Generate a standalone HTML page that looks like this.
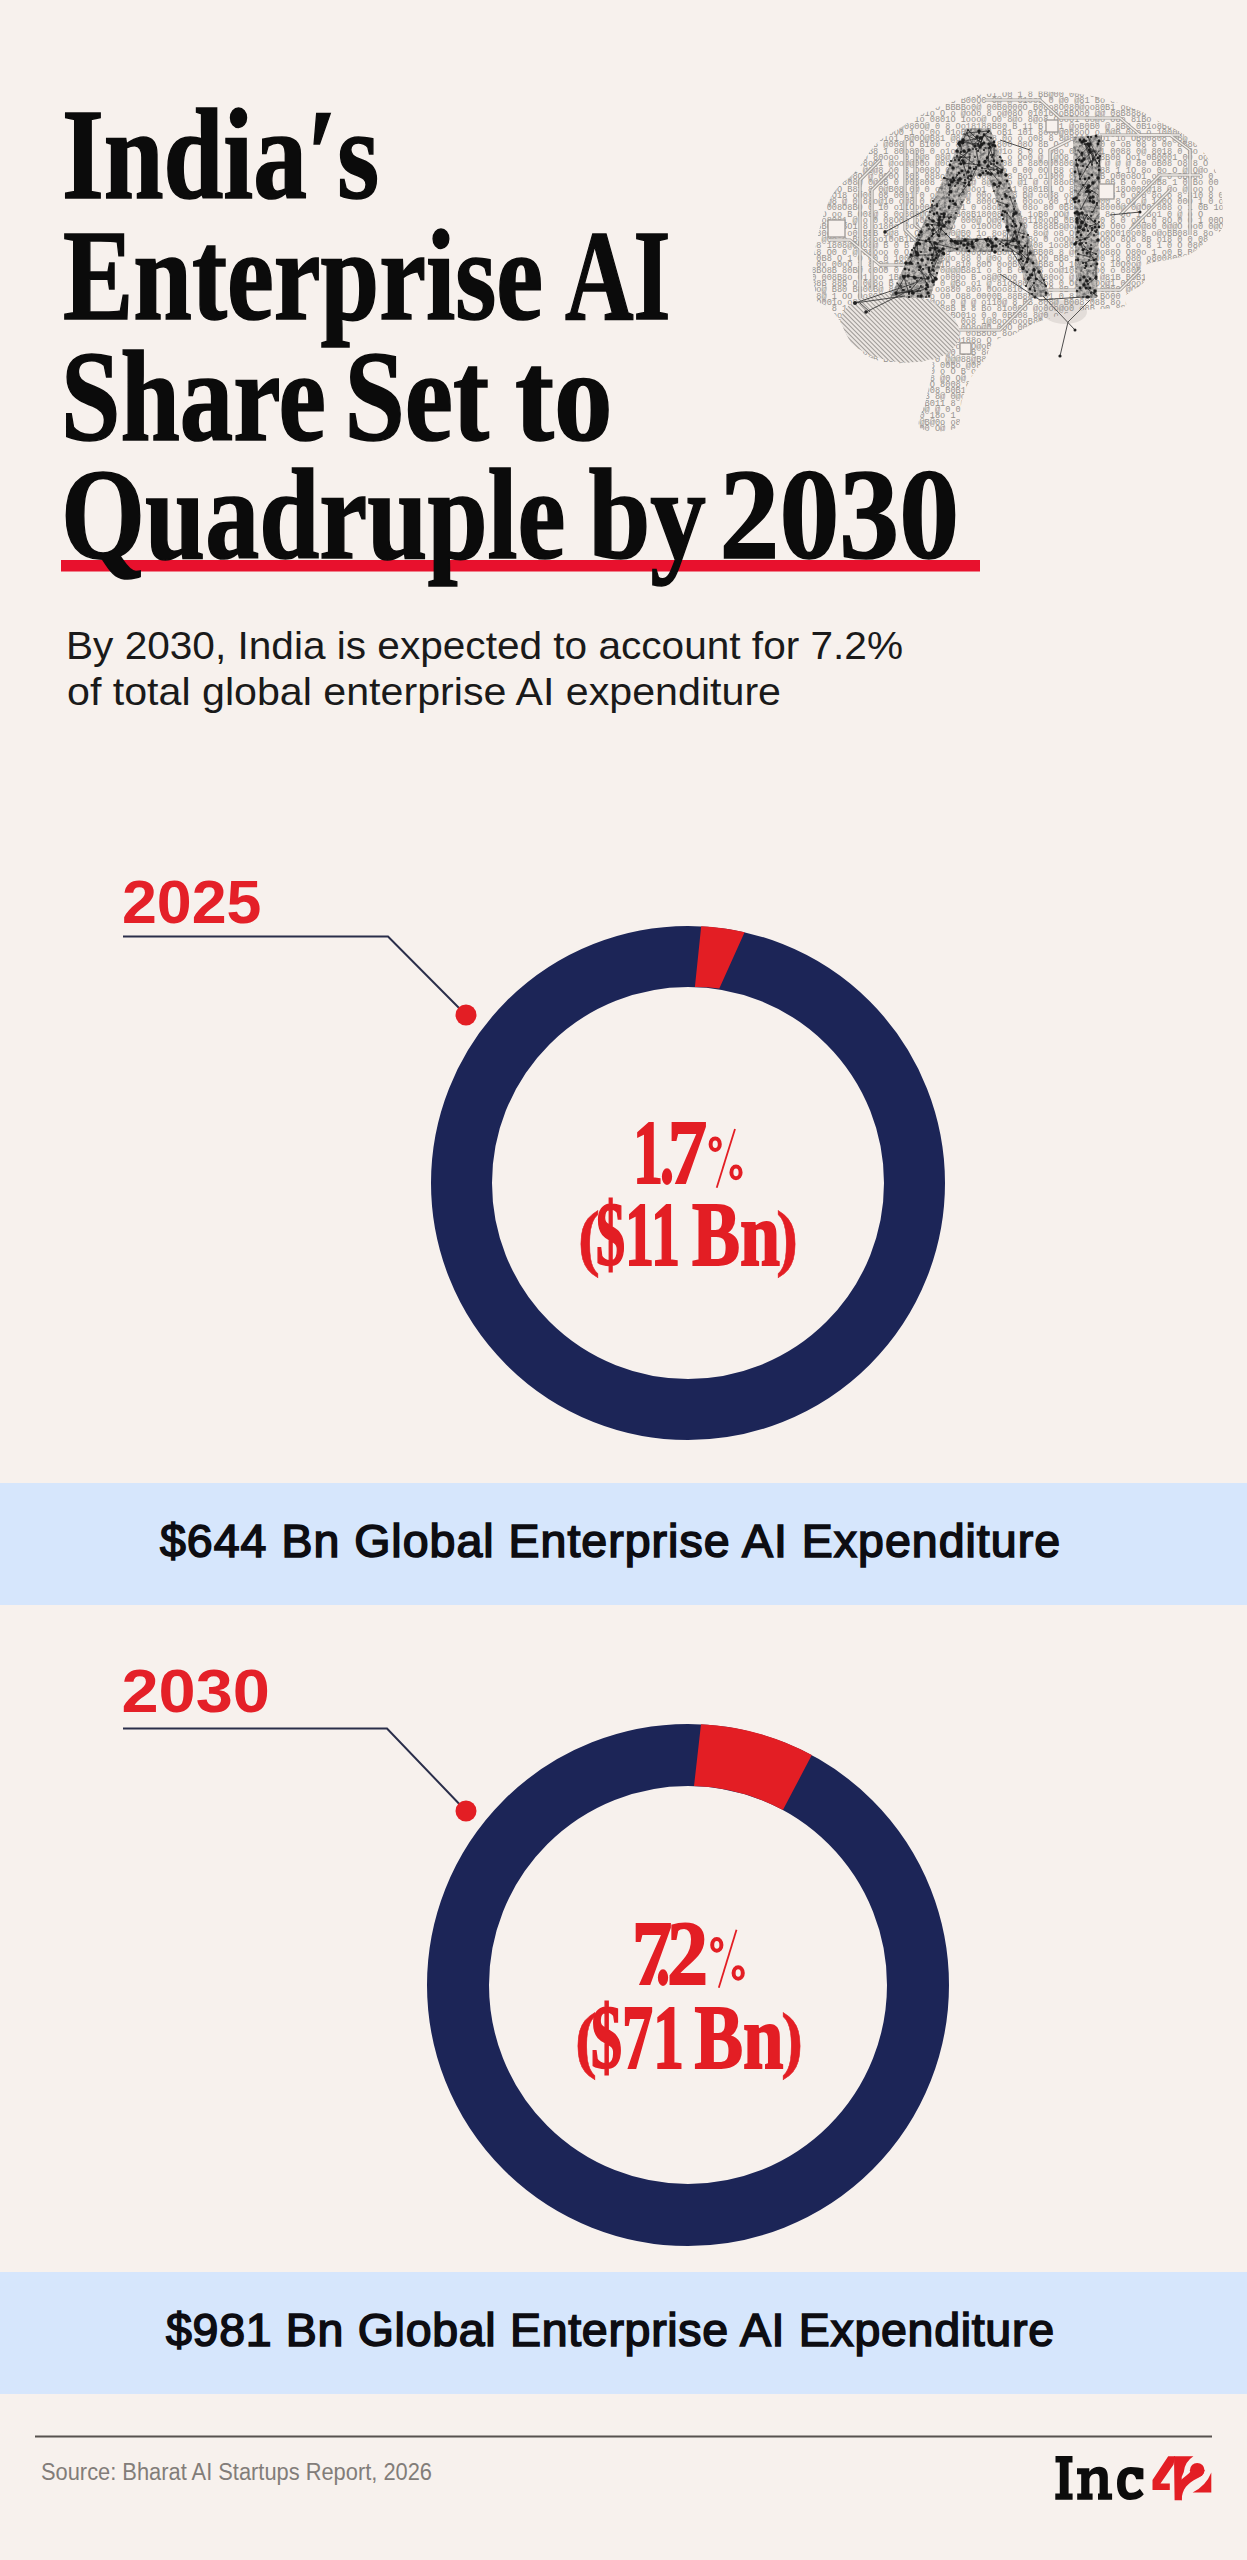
<!DOCTYPE html>
<html>
<head>
<meta charset="utf-8">
<title>India's Enterprise AI Share Set to Quadruple by 2030</title>
<style>
html,body{margin:0;padding:0;}
body{width:1247px;height:2560px;background:#f7f1ed;overflow:hidden;position:relative;}
svg{position:absolute;left:0;top:0;display:block;}
.serif{font-family:"Liberation Serif",serif;font-weight:bold;}
.sans{font-family:"Liberation Sans",sans-serif;}
</style>
</head>
<body>
<svg width="1247" height="2560" viewBox="0 0 1247 2560">
  <!-- BRAIN -->
  <g id="brain"><defs><clipPath id="bclip"><path d="M973,96 C956.0,99.2 941.2,105.7 929,111 C916.8,116.3 908.8,122.5 900,128 C891.2,133.5 883.2,137.0 876,144 C868.8,151.0 863.8,162.2 857,170 C850.2,177.8 840.8,182.7 835,191 C829.2,199.3 825.7,207.8 822,220 C818.3,232.2 814.2,252.3 813,264 C811.8,275.7 814.3,283.8 815,290 C815.7,296.2 814.8,298.2 817,301 C819.2,303.8 824.3,303.8 828,307 C831.7,310.2 834.5,313.3 839,320 C843.5,326.7 847.7,340.0 855,347 C862.3,354.0 872.5,359.5 883,362 C893.5,364.5 910.0,362.3 918,362 C926.0,361.7 928.7,358.3 931,360 C933.3,361.7 932.8,365.3 932,372 C931.2,378.7 928.0,390.7 926,400 C924.0,409.3 915.0,423.3 920,428 C925.0,432.7 949.0,432.7 956,428 C963.0,423.3 959.3,408.7 962,400 C964.7,391.3 968.0,383.0 972,376 C976.0,369.0 983.0,362.8 986,358 C989.0,353.2 987.7,350.3 990,347 C992.3,343.7 996.5,339.8 1000,338 C1003.5,336.2 1006.8,337.7 1011,336 C1015.2,334.3 1020.5,330.3 1025,328 C1029.5,325.7 1029.3,324.8 1038,322 C1046.7,319.2 1062.8,313.5 1077,311 C1091.2,308.5 1115.0,309.5 1123,307 C1131.0,304.5 1121.5,300.2 1125,296 C1128.5,291.8 1140.5,287.2 1144,282 C1147.5,276.8 1141.2,268.8 1146,265 C1150.8,261.2 1165.3,261.0 1173,259 C1180.7,257.0 1186.2,256.2 1192,253 C1197.8,249.8 1203.2,243.8 1208,240 C1212.8,236.2 1218.5,234.2 1221,230 C1223.5,225.8 1223.3,223.3 1223,215 C1222.7,206.7 1222.2,190.3 1219,180 C1215.8,169.7 1210.0,160.7 1204,153 C1198.0,145.3 1190.3,139.2 1183,134 C1175.7,128.8 1168.0,126.2 1160,122 C1152.0,117.8 1147.2,113.5 1135,109 C1122.8,104.5 1104.3,97.9 1087,95 C1069.7,92.1 1050.0,91.3 1031,91.5 C1012.0,91.7 990.0,92.8 973,96Z"/></clipPath><clipPath id="cereb"><ellipse cx="900" cy="328" rx="60" ry="34" transform="rotate(8 900 328)"/></clipPath><clipPath id="letters"><path d="M966,128 L990,128 L1050,296 L1030,298 L1016,252 L945,252 L930,298 L890,298 Z M975,176 L948,238 L1010,238 L988,176 Z M1073,137 L1102,135 L1097,298 L1076,298 Z" clip-rule="evenodd"/></clipPath><filter id="mott" x="0" y="0" width="100%" height="100%"><feTurbulence type="fractalNoise" baseFrequency="0.3" numOctaves="3" seed="5"/><feColorMatrix type="matrix" values="0 0 0 0 0.13  0 0 0 0 0.13  0 0 0 0 0.13  2.2 0 0 0 -0.75"/><feComposite in2="SourceGraphic" operator="in"/></filter></defs><g clip-path="url(#bclip)"><g font-family="Liberation Mono, monospace" font-size="8.6" fill="#95918d" xml:space="preserve"><text x="806" y="97.0">B  0B0 8B  0 00B0180 o0 8B   10O80 1 0 O1 O0  1 8 BB@00 000 0@808O00o@ 00@1 1o 0 0O800BO8081 008</text><text x="806" y="103.3">0 @  B@0o  oO OB0     oO 0 0 0OO   08 B00O0 0@ @ 81oo1 0 @0  @81 Bo  o00880@18@  Ooo  80 08 B@10</text><text x="806" y="109.6">800B  o o 1   o0Oo80O0o  B o  O BBBBo0@ 00B0000O B08o8O080@oo80B1  oBBo1B@o  o 1 1OO0@o 1o  Boo </text><text x="806" y="115.9"> 0B011@  0oO8o0o  8o1O0O   01o O   o    @oOo  8  o@08O  010108oBBOo0  @@ 08B8888  1ooo o181O  1O</text><text x="806" y="122.2">01 @808oB 8 O8 o0 08 1o  0801O  1ooo@ O0  8@o 8@o8 O0o01 8o@o O8o 81Bo o0  00@8 00000BBOO oO 1 B</text><text x="806" y="128.5">8o @B 0 o0    B0 0 @ @080O@ 0 8 Oo18188B80 B 11  B   1   1 @oB0B0 @ 8B8 0B1o8B8808  O 0   80 88 </text><text x="806" y="134.8">    oB   O1O8o0@@  08O0OO0 1  o 0o   01oBB8 @B oB1 101 8ooO@0B8oO o 0@B 0oo  o 1000B1o0  880 0 8</text><text x="806" y="141.1">  0O B0 00  8  80 O1o1    B@0O@B81 @8 o 8o88 0o o  o08 8  8@8118 oO1  1o OB00808 @B@ 8 0 @o 8 B </text><text x="806" y="147.4">B 0 0o8  8080 8 @008 O B100     o 88   01  0 800 08O    8B O o  @o  0 0 0 oB 08 8   00 8B80  oo1</text><text x="806" y="153.7">  o 0B 00B00B B8 1 80o800  0  o1o   o080 80@1o  8 0 O 00o 0o8  0o1 0088 0@ 8018 0  Bo B   O 1   </text><text x="806" y="160.0"> 0  0o1o@      8o@0 80ooo 0 0@8 08@ @8o o O o  o   Oo0 @ 1@O8 @00oo8B00 Oo1 0B0001   00 ooBB1oB1</text><text x="806" y="166.3">  B   8000oo8 o8oO1 @oo@@00o   @0o1@ 0 @ 0o  08 B  880000800 88 8 @  @ @  80 oB08 O8 8  O ooo 8@</text><text x="806" y="172.6">0 8oo10o   1 @0@8 o0   8 O008O 00O O 808o8o 0 00 0O  B8 o0  0 O88 1  1O 8o 0o O @      O@o  oBO </text><text x="806" y="178.9">BO@ 8101@8O @ 0O0O  B08 088o 8B B o0o8o88 Bo1  o1B00 010  0@B O00o8O1 o@ 0 0Bo0o 0 o   O@8  O  B</text><text x="806" y="185.2">  o1oO80  808@ 0@0B 0 008808  1 0@  8@ 8@oB8o @1  @ o 88oB  B808 0B B o o0oB8 1 0  Bo 00 o@o 0o </text><text x="806" y="191.5">  0@o1 @O B81       8  0@B08  0@ 0  o1  o010oo1 181 1 0801B1  O 80@oO @o 18O00O@18  @o @ oo  O  </text><text x="806" y="197.8"> oOB0BO18   oO00 08 0001 0 o00008o@ 00o o   B8  B@ oo88  o88o080088 0 o00 8o o 8        810 8 0 </text><text x="806" y="204.1">O 8  @8 @  0   88o@10  o@8  0 08 88O 8 800Ooo11  0ooo 80 10@8 oo00  8 O8 @ 1o0O 00O  1  0  o1  0</text><text x="806" y="210.4"> 0  o 008O8B0 0 10 o11Oo000001 81 0  o8oB00B 08o 80 0B8808@  8000@ 0@O0 808 o 1  0B 1oo  @  ooo </text><text x="806" y="216.7">o8 O   oo B O08@ 8 0o808@OOBB  oB08B18008o     01    1oB0 OO@   0B0 1 8o  0o 1 Bo1   0   @ o   O</text><text x="806" y="223.0">o0oo8081 @ o   0 08O0o o00Bo 18 000@  O@0oO o0110oOB 0B00 o 0 8 0   o81    0 8O  0 0 1 00Ooo1080</text><text x="806" y="229.3">o08B00oBO1 8  o180o 0o0 1ooO o  o o10Oo0   o  00  8888B8@o   80 o0  O0o 00@80 0@@O  oo0 0@O0 0  </text><text x="806" y="235.6">0 80o @ o0  BBB B@8 0  OO1 o1@0@B0    1o  8o8   o0O 8o@ o8 O 8    8oo0O010o08 o@oBB08 8  8o B   </text><text x="806" y="241.9"> 8@    @0o o B18ooo10oB1B0 o@o 8 O0O @ 8B 8o o  Bo 0 ooO@o @o1O0O 8O8 8B o18 0 0 08 O0101080 oo0</text><text x="806" y="248.2">008 1808@OBO8@ B  0  B 80 08o01 8 8 B8o0  8B oB08    1oo801   OO O8  o 8 o 8 1 0    O   080 oo o</text><text x="806" y="254.5">  018 O0  0 @ 08ooo  0 O   0000o80  o0o08O0 B0oBo88BB08    8 @O   08@o88O O80o 1  o0 B B@8 8 B8 </text><text x="806" y="260.8">@ 0B8  O 1 O  00 0 1000oo1OoB@o  88  0  @0o  0oo0O O0 BB8  18Oo00   18 080 o800800@  @   o8 @0  </text><text x="806" y="267.1">1  0o 00oO 1  8  0@  B0O 8@  oB1O  810 80O  0o0B08 oBB8 O 1Oo8o o  10O0o@ 0OB0 @B88O 0801  oB o0</text><text x="806" y="273.4"> @8BO8B 80B@ o0O0  0 o Bo08 0@@@B881 o   8 B  0o0 B oo@108o@oo0 o 080B 1  O0     8@oo010 oO01800</text><text x="806" y="279.7">@0 008B8o  01  oo 1B0 O 1B0 o000o B  o8@00o0 B O080oo @ B 0 @81B B0B110008B1    1O 000 0 oOo B  </text><text x="806" y="286.0"> 888B 88B O 0@8o   B  o o 0 o 0 @Bo o1 @ 81o080B0 o8    0 O01o@Oo@1     00oo800@ o08Bo1oO 8   o8</text><text x="806" y="292.3">0Oo@  B80 B80OB@ 8 88oo0O oo880 80o 0Ooo810  8  B  0 8B O8o0 0@80  @OB18@o1o8O8    O O8oo   o0o1</text><text x="806" y="298.6">0 8@    1 OO  Oo808o@8 08oB o     O0   O88 0000B 88B88o 01 0 8 8@@    Bo00 081O00  0O @  OO10 00</text><text x="806" y="304.9">0OO001o o8 00 1@BoB 8800@oo 0 @ @ o110@   8 BB 808@ B008  088 8o @@ 8 8 B      o o 10o0@080 00o0</text><text x="806" y="311.2">oO 0  8 1o 0088@  o8  O oo0o1B8B B  8 Bo  81o00O @o0oo@o0  o8B o0 88O OO880o1 1oo10  88Ooo08  01</text><text x="806" y="317.5">0@  0 oo0 o0 81@  0108@  00 o  oBO01o   0 0    0BB08 8@0 o 8 0 o  0808  8  0 o80o0      0O OO1O0</text><text x="806" y="323.8"> O 8101o 8O0 101B808 1 0 88O  o   0o8 1@8oo8oooB80 B08  8B0  BB  08BO1  11@0   B      0 0880 0OO</text><text x="806" y="330.1">o1ooO  0  B o0  @  @ @1o BO0  0 0o 0O8o@0 0OO 00O088 B0 @1 8  00o    B  o0 81 @808o@o0  80B0B  B</text><text x="806" y="336.4">0 00B08Bo 8B 8  00  B  o B0@  B B0  0oB8O8 8oo@0 0   B@ 80 B8    o88O08 18 @@  080B1 0 00@B 08o0</text><text x="806" y="342.7"> O1O0 o B@1B8  88800 08 B 8  B8   O188o O  80 808 00Oo1  oo0 8 o8  0  0  8088 BOoO00o1B B B 08  </text><text x="806" y="349.0">oo0 880B0 1o OB1 01 B0BB0o00 o  oO@oBo0   0 Bo@O     @018B0O08   oB1@ 0 B  88000 o801o0  o 0B   </text><text x="806" y="355.3"> 8 B0 080  0 0B oO0 800o08    O  @0   1OB 8o800 o o0ooO o 8 8 1 1 1@   o 8@8 oo  O00B o  10     </text><text x="806" y="361.6">oo0oo@o1o81 @B B8 @00801 0 @@@88@B8  BB  0      1O0 1o8oB8 o@80 @ oB0O@0o 80@  8 O0 0O1@B 0 @Oo </text><text x="806" y="367.9">00  1081 0 oO8 8 o 0@   B 88 00Bo @08 @@1@Bo      @1B  8 O01 8o 00O1O8@@8 1 B8O O0 8o@0@8  0o  o</text><text x="806" y="374.2">8oooo0 8o @ 0O0 11  88     OB0 o O B oo 1o1o8  0 @18 B8 010  o0B8 0Oo1@o@10 0 8@@8  8B  @O80 88o</text><text x="806" y="380.5">BO 8O0o00808o0O8080 OB0  8 @0  O@ 880B oo1  B00  B1oBo8 08 00   OoO @o BB10018 80 01108 0  o1o B</text><text x="806" y="386.8">OO o10 o80ooo8o@0o8 00 0O 8008 8 01oo  1@oOB 008080o    0O8810800  O 10 01 0o08  0 @o00@ 01 oB  </text><text x="806" y="393.1">o88B 10o1  880B 81888o@@008 B0B1OB 0888 80B08o1 o O oo00 0 o  0 @   @   O 0   0@@ 0  0B o8 B 0B </text><text x="806" y="399.4">0 81 oo 8  @@0  O1    o00   0   B   8@ 0@oB8 0O Oo0o8@ oo  B o o B @ 8   08 0B 8 0o@oo 801o 1o O</text><text x="806" y="405.7">00 O8   o0O B810 0  1 0   0 B011 8   @00 8000 8 1  8   oo8188   008o     8 0 0OB@o8 o0@o 81O  oo</text><text x="806" y="412.0"> 0  881  8o  B  0Oo8o0 O 08O@ @ 0 0  o0 B@o880010  B8 o 10 8008@ Bo80 1 OBB 0@o@B   8o 8 8B0 8 o</text><text x="806" y="418.3">0  8o8B0B00o @o0@0B 88@0 18o  1 o 8@88@O o  @ B 080 0@@ 10 o@0 8 8 o@  @   800080o 0  O  08   01</text><text x="806" y="424.6">00 o o18o 1 o1 BO  8 8o@B@0o o8o08o @    018  oO0 8B    8O0 8B@0 0    o 1B01o0   B@B   o  B 8 o </text><text x="806" y="430.9">@  @1  o@180 8oB 1 oo  0          00 O@   0   081@@   1   8o @o o118 O@  B  1o BOo00 B8 8 80880 </text></g><g fill="none" stroke="#9d9995" stroke-width="3.2"><path d="M860,300 L860,180 L880,160"/><path d="M872,290 L872,190 L890,172"/><path d="M905,140 L905,230 L930,255"/><path d="M915,150 L915,225 L945,250"/><path d="M985,100 L1040,100 L1060,118 L1120,118 L1140,135 L1180,135"/><path d="M1100,135 L1170,135 L1190,150 L1190,235"/><path d="M1050,200 L1050,150 L1070,140"/><path d="M1120,215 L1160,175 L1200,175"/><path d="M1130,230 L1170,190"/><path d="M920,330 L1000,330 L1030,300"/><path d="M1040,290 L1120,290 L1140,270"/><path d="M830,240 L850,240 L880,265 L940,265"/></g><g fill="none" stroke="#efebe7" stroke-width="1.4"><path d="M860,300 L860,180 L880,160"/><path d="M872,290 L872,190 L890,172"/><path d="M905,140 L905,230 L930,255"/><path d="M915,150 L915,225 L945,250"/><path d="M985,100 L1040,100 L1060,118 L1120,118 L1140,135 L1180,135"/><path d="M1100,135 L1170,135 L1190,150 L1190,235"/><path d="M1050,200 L1050,150 L1070,140"/><path d="M1120,215 L1160,175 L1200,175"/><path d="M1130,230 L1170,190"/><path d="M920,330 L1000,330 L1030,300"/><path d="M1040,290 L1120,290 L1140,270"/><path d="M830,240 L850,240 L880,265 L940,265"/></g><g clip-path="url(#cereb)"><rect x="820" y="280" width="160" height="110" fill="#ece7e3"/><g fill="none" stroke="#a09c98" stroke-width="1.1"><path d="M740.0,270 L870.0,400"/><path d="M744.5,270 L874.5,400"/><path d="M749.0,270 L879.0,400"/><path d="M753.5,270 L883.5,400"/><path d="M758.0,270 L888.0,400"/><path d="M762.5,270 L892.5,400"/><path d="M767.0,270 L897.0,400"/><path d="M771.5,270 L901.5,400"/><path d="M776.0,270 L906.0,400"/><path d="M780.5,270 L910.5,400"/><path d="M785.0,270 L915.0,400"/><path d="M789.5,270 L919.5,400"/><path d="M794.0,270 L924.0,400"/><path d="M798.5,270 L928.5,400"/><path d="M803.0,270 L933.0,400"/><path d="M807.5,270 L937.5,400"/><path d="M812.0,270 L942.0,400"/><path d="M816.5,270 L946.5,400"/><path d="M821.0,270 L951.0,400"/><path d="M825.5,270 L955.5,400"/><path d="M830.0,270 L960.0,400"/><path d="M834.5,270 L964.5,400"/><path d="M839.0,270 L969.0,400"/><path d="M843.5,270 L973.5,400"/><path d="M848.0,270 L978.0,400"/><path d="M852.5,270 L982.5,400"/><path d="M857.0,270 L987.0,400"/><path d="M861.5,270 L991.5,400"/><path d="M866.0,270 L996.0,400"/><path d="M870.5,270 L1000.5,400"/><path d="M875.0,270 L1005.0,400"/><path d="M879.5,270 L1009.5,400"/><path d="M884.0,270 L1014.0,400"/><path d="M888.5,270 L1018.5,400"/><path d="M893.0,270 L1023.0,400"/><path d="M897.5,270 L1027.5,400"/><path d="M902.0,270 L1032.0,400"/><path d="M906.5,270 L1036.5,400"/><path d="M911.0,270 L1041.0,400"/><path d="M915.5,270 L1045.5,400"/><path d="M920.0,270 L1050.0,400"/><path d="M924.5,270 L1054.5,400"/><path d="M929.0,270 L1059.0,400"/><path d="M933.5,270 L1063.5,400"/><path d="M938.0,270 L1068.0,400"/><path d="M942.5,270 L1072.5,400"/><path d="M947.0,270 L1077.0,400"/><path d="M951.5,270 L1081.5,400"/><path d="M956.0,270 L1086.0,400"/><path d="M960.5,270 L1090.5,400"/></g></g></g><g clip-path="url(#letters)"><rect x="880" y="120" width="230" height="185" fill="#c4c0bc"/><rect x="880" y="120" width="230" height="185" fill="#222" filter="url(#mott)"/></g><path d="M989,144L994,142M989,144L994,161M914,248L917,253M994,161L994,142M932,211L932,205M930,242L941,251M1021,252L1017,237M982,144L968,130M939,236L944,215M990,162L1002,170M973,149L973,149M1007,244L1013,241M972,242L951,241M969,185L969,179M1035,291L1034,287M1076,160L1080,179M1076,160L1089,146M1034,270L1036,279M1039,272L1046,286M1020,252L1015,232M1020,252L1021,253M1080,240L1083,250M928,224L943,226M919,240L939,243M1092,165L1085,144M973,145L963,140M955,242L967,240M1087,215L1080,228M1087,215L1096,224M1097,163L1088,144M1097,163L1085,144M951,217L940,217M951,217L941,229M937,213L944,226M940,217L938,235M912,293L918,291M910,257L917,255M1076,242L1089,237M1008,230L1007,244M1021,225L1017,237M964,134L981,142M955,243L941,229M1097,203L1093,212M1075,213L1082,213M1096,254L1084,249M1023,248L1007,244M1084,285L1086,279M972,244L976,241M965,183L945,178M934,267L941,251M1023,268L1030,253M926,279L908,276M1078,254L1090,257M1086,192L1093,183M1087,167L1099,151M967,240L988,239M1028,259L1027,243M1096,232L1097,230M979,162L971,180M920,291L928,287M1096,259L1096,277M939,256L930,242M978,146L980,138M998,173L998,173M989,131L967,133M1002,240L1019,242M1078,232L1086,226M1078,232L1077,222M970,154L968,172M960,142L978,144M1007,213L1015,224M1007,213L1007,227M960,146L962,142M960,146L968,130M973,247L965,240M1081,227L1077,222M1082,243L1093,258M896,293L917,291M963,141L959,160M932,225L938,235M1010,197L1016,213M993,145L984,135M1094,203L1093,202M1079,214L1081,227M935,243L932,263M1090,162L1098,158M1090,162L1080,179M974,164L957,151M1001,242L1006,245M904,277L909,294M917,243L918,255M980,147L978,151M997,201L1007,205M926,241L943,226M1100,156L1099,166M1100,156L1099,166M1100,156L1085,144M1089,146L1093,159M1089,146L1089,145M1097,296L1085,287M1083,185L1094,202M896,294L912,291M944,178L958,183M921,278L927,283M1082,213L1096,224M932,258L943,249M909,292L921,278M903,290L897,283M1081,209L1090,192M1034,283L1030,289M929,270L933,282M919,270L928,278M951,241L965,240M1088,137L1096,155M916,246L910,263M1099,189L1099,170M929,219L944,226M988,132L973,145M988,166L989,148M988,166L1001,172M929,239L938,257M981,145L978,146M1084,159L1078,150M1012,251L1023,269M933,234L928,224M981,142L984,134M981,142L984,134M923,287L909,292M927,285L920,267M933,266L928,278M980,138L960,142M1099,222L1085,239M1017,237L1013,221M939,225L939,225M1096,224L1090,226M969,150L959,164M937,255L918,255M976,167L976,169M984,134L981,142M964,163L979,165M1000,183L987,167M1016,240L1023,248M1014,214L1014,209M954,158L970,157M1095,291L1095,291M1022,257L1016,240M937,244L957,249M967,133L973,145M959,173L954,180M1086,288L1090,288M1034,269L1026,286M949,195L951,179M1078,194L1089,178M955,186L960,179M1100,196L1083,185M1093,159L1092,165M952,241L973,247M952,241L957,243M910,263L906,263M959,196L971,180M1087,253L1090,252M1027,255L1030,253M994,170L982,168M1008,247L1015,232M1008,247L1020,255M1093,151L1082,161M1093,151L1093,159M936,258L937,248M1028,260L1020,252M905,276L896,293M1024,234L1018,232M1083,263L1096,259M929,272L935,278M1088,231L1082,213M968,178L962,160M985,162L993,145M1091,249L1090,257M984,135L991,138M1086,226L1075,213M969,176L968,178M918,291L921,286M1037,279L1045,285M976,149L979,165M1088,284L1095,278M1002,170L991,164M959,160L969,150M985,239L988,245M1032,294L1032,294" stroke="#2b2b2b" stroke-width="0.9" fill="none" opacity="0.85"/><g fill="#1d1d1d"><circle cx="1094" cy="202" r="1.4"/><circle cx="1023" cy="269" r="1.4"/><circle cx="989" cy="144" r="1.8"/><circle cx="992" cy="250" r="1.1"/><circle cx="914" cy="248" r="1.1"/><circle cx="920" cy="267" r="1.8"/><circle cx="996" cy="239" r="1.8"/><circle cx="1084" cy="140" r="1.4"/><circle cx="1095" cy="182" r="0.7"/><circle cx="1006" cy="196" r="1.8"/><circle cx="994" cy="161" r="1.4"/><circle cx="1012" cy="226" r="1.1"/><circle cx="926" cy="297" r="0.9"/><circle cx="1003" cy="219" r="1.1"/><circle cx="1021" cy="259" r="1.4"/><circle cx="960" cy="247" r="0.7"/><circle cx="932" cy="211" r="0.7"/><circle cx="921" cy="232" r="1.8"/><circle cx="1030" cy="253" r="1.8"/><circle cx="930" cy="242" r="1.1"/><circle cx="939" cy="243" r="0.7"/><circle cx="1085" cy="287" r="0.7"/><circle cx="1001" cy="172" r="1.8"/><circle cx="999" cy="186" r="1.1"/><circle cx="934" cy="285" r="0.7"/><circle cx="991" cy="164" r="1.1"/><circle cx="1021" cy="252" r="0.7"/><circle cx="988" cy="245" r="1.8"/><circle cx="1018" cy="232" r="0.7"/><circle cx="897" cy="283" r="0.7"/><circle cx="971" cy="130" r="0.7"/><circle cx="1092" cy="212" r="0.9"/><circle cx="962" cy="171" r="1.4"/><circle cx="1028" cy="235" r="1.1"/><circle cx="982" cy="144" r="1.8"/><circle cx="955" cy="204" r="1.8"/><circle cx="927" cy="225" r="1.8"/><circle cx="926" cy="265" r="0.9"/><circle cx="975" cy="146" r="1.8"/><circle cx="939" cy="236" r="1.4"/><circle cx="1090" cy="144" r="1.4"/><circle cx="990" cy="162" r="0.7"/><circle cx="994" cy="191" r="0.9"/><circle cx="914" cy="277" r="1.4"/><circle cx="979" cy="165" r="1.8"/><circle cx="973" cy="149" r="0.9"/><circle cx="1007" cy="244" r="1.8"/><circle cx="972" cy="242" r="1.4"/><circle cx="935" cy="249" r="1.4"/><circle cx="969" cy="185" r="1.4"/><circle cx="1035" cy="291" r="1.1"/><circle cx="917" cy="239" r="0.7"/><circle cx="995" cy="146" r="1.4"/><circle cx="1081" cy="271" r="0.7"/><circle cx="1076" cy="160" r="1.1"/><circle cx="971" cy="180" r="0.9"/><circle cx="1034" cy="270" r="1.8"/><circle cx="921" cy="286" r="0.9"/><circle cx="964" cy="186" r="0.9"/><circle cx="933" cy="282" r="1.4"/><circle cx="939" cy="222" r="0.7"/><circle cx="1086" cy="225" r="1.8"/><circle cx="950" cy="201" r="1.4"/><circle cx="1002" cy="199" r="1.1"/><circle cx="1039" cy="272" r="1.8"/><circle cx="1020" cy="252" r="1.4"/><circle cx="1085" cy="179" r="1.4"/><circle cx="1080" cy="240" r="0.9"/><circle cx="1090" cy="226" r="0.9"/><circle cx="928" cy="224" r="0.7"/><circle cx="940" cy="241" r="0.9"/><circle cx="1096" cy="155" r="0.9"/><circle cx="919" cy="240" r="1.1"/><circle cx="962" cy="202" r="0.9"/><circle cx="960" cy="179" r="1.4"/><circle cx="1092" cy="165" r="0.9"/><circle cx="995" cy="185" r="1.1"/><circle cx="939" cy="223" r="1.8"/><circle cx="1080" cy="174" r="1.4"/><circle cx="928" cy="259" r="1.4"/><circle cx="1023" cy="237" r="1.4"/><circle cx="1087" cy="297" r="1.4"/><circle cx="973" cy="145" r="0.7"/><circle cx="1001" cy="158" r="0.7"/><circle cx="1007" cy="181" r="1.4"/><circle cx="938" cy="257" r="0.7"/><circle cx="937" cy="248" r="1.1"/><circle cx="984" cy="143" r="1.4"/><circle cx="1080" cy="280" r="1.4"/><circle cx="1015" cy="224" r="0.9"/><circle cx="1088" cy="191" r="1.8"/><circle cx="951" cy="215" r="0.7"/><circle cx="955" cy="242" r="1.8"/><circle cx="1087" cy="215" r="0.9"/><circle cx="956" cy="205" r="0.9"/><circle cx="1002" cy="161" r="1.4"/><circle cx="933" cy="221" r="1.8"/><circle cx="1096" cy="277" r="1.4"/><circle cx="1097" cy="163" r="1.1"/><circle cx="1084" cy="249" r="1.1"/><circle cx="951" cy="217" r="1.1"/><circle cx="939" cy="251" r="1.8"/><circle cx="926" cy="289" r="1.4"/><circle cx="974" cy="169" r="0.9"/><circle cx="1035" cy="297" r="1.4"/><circle cx="1019" cy="235" r="0.7"/><circle cx="977" cy="137" r="1.8"/><circle cx="909" cy="270" r="1.1"/><circle cx="960" cy="142" r="0.9"/><circle cx="937" cy="213" r="1.4"/><circle cx="940" cy="217" r="1.4"/><circle cx="961" cy="204" r="0.7"/><circle cx="1095" cy="278" r="0.7"/><circle cx="986" cy="171" r="1.1"/><circle cx="984" cy="150" r="1.1"/><circle cx="1098" cy="158" r="1.4"/><circle cx="912" cy="293" r="1.1"/><circle cx="910" cy="257" r="0.7"/><circle cx="1076" cy="242" r="0.9"/><circle cx="1044" cy="280" r="1.1"/><circle cx="915" cy="278" r="1.8"/><circle cx="1094" cy="235" r="0.9"/><circle cx="1008" cy="230" r="1.8"/><circle cx="944" cy="215" r="0.9"/><circle cx="1026" cy="286" r="1.1"/><circle cx="1021" cy="225" r="1.1"/><circle cx="964" cy="134" r="0.7"/><circle cx="987" cy="241" r="0.9"/><circle cx="927" cy="283" r="0.7"/><circle cx="943" cy="226" r="0.7"/><circle cx="910" cy="287" r="0.9"/><circle cx="955" cy="243" r="0.7"/><circle cx="1097" cy="203" r="1.1"/><circle cx="1084" cy="277" r="1.8"/><circle cx="967" cy="248" r="1.4"/><circle cx="1075" cy="213" r="1.4"/><circle cx="1088" cy="144" r="1.8"/><circle cx="1090" cy="279" r="1.4"/><circle cx="1096" cy="254" r="1.1"/><circle cx="923" cy="269" r="1.1"/><circle cx="1023" cy="248" r="0.9"/><circle cx="1084" cy="285" r="1.8"/><circle cx="1081" cy="235" r="1.4"/><circle cx="1028" cy="279" r="1.4"/><circle cx="963" cy="143" r="1.4"/><circle cx="1085" cy="215" r="0.7"/><circle cx="972" cy="244" r="1.8"/><circle cx="969" cy="179" r="0.7"/><circle cx="944" cy="216" r="1.1"/><circle cx="1021" cy="253" r="0.7"/><circle cx="909" cy="297" r="1.1"/><circle cx="930" cy="212" r="1.1"/><circle cx="982" cy="137" r="0.7"/><circle cx="1093" cy="183" r="1.8"/><circle cx="965" cy="183" r="1.4"/><circle cx="1074" cy="199" r="1.8"/><circle cx="1081" cy="240" r="0.7"/><circle cx="946" cy="224" r="0.7"/><circle cx="1046" cy="286" r="1.1"/><circle cx="934" cy="267" r="0.7"/><circle cx="951" cy="179" r="0.7"/><circle cx="911" cy="255" r="1.4"/><circle cx="1023" cy="268" r="1.8"/><circle cx="1098" cy="144" r="1.4"/><circle cx="933" cy="270" r="1.4"/><circle cx="926" cy="279" r="0.7"/><circle cx="963" cy="140" r="1.8"/><circle cx="953" cy="178" r="1.4"/><circle cx="1093" cy="197" r="1.8"/><circle cx="964" cy="151" r="1.8"/><circle cx="917" cy="244" r="1.8"/><circle cx="928" cy="293" r="1.8"/><circle cx="922" cy="260" r="1.8"/><circle cx="1089" cy="178" r="1.4"/><circle cx="1078" cy="254" r="1.1"/><circle cx="908" cy="276" r="1.8"/><circle cx="1086" cy="266" r="1.4"/><circle cx="939" cy="220" r="1.8"/><circle cx="1085" cy="239" r="1.4"/><circle cx="1080" cy="179" r="1.1"/><circle cx="1086" cy="192" r="1.1"/><circle cx="937" cy="204" r="0.9"/><circle cx="1087" cy="167" r="1.1"/><circle cx="967" cy="240" r="0.7"/><circle cx="986" cy="171" r="0.9"/><circle cx="1028" cy="259" r="1.8"/><circle cx="1045" cy="285" r="0.7"/><circle cx="1094" cy="260" r="1.4"/><circle cx="1096" cy="232" r="1.1"/><circle cx="979" cy="162" r="1.4"/><circle cx="903" cy="276" r="1.1"/><circle cx="968" cy="172" r="1.8"/><circle cx="963" cy="190" r="0.7"/><circle cx="920" cy="291" r="0.9"/><circle cx="1030" cy="275" r="0.9"/><circle cx="1007" cy="205" r="1.1"/><circle cx="1089" cy="237" r="0.7"/><circle cx="975" cy="157" r="0.9"/><circle cx="1090" cy="252" r="0.7"/><circle cx="1077" cy="220" r="1.4"/><circle cx="1089" cy="297" r="0.9"/><circle cx="1086" cy="279" r="0.7"/><circle cx="942" cy="220" r="0.9"/><circle cx="1096" cy="259" r="0.9"/><circle cx="918" cy="255" r="1.4"/><circle cx="974" cy="169" r="0.7"/><circle cx="1029" cy="278" r="1.8"/><circle cx="1090" cy="192" r="1.4"/><circle cx="1027" cy="272" r="1.1"/><circle cx="988" cy="173" r="1.8"/><circle cx="1085" cy="268" r="1.1"/><circle cx="932" cy="236" r="1.1"/><circle cx="912" cy="264" r="0.9"/><circle cx="1093" cy="212" r="0.7"/><circle cx="1003" cy="211" r="1.1"/><circle cx="932" cy="205" r="0.9"/><circle cx="933" cy="281" r="1.8"/><circle cx="939" cy="256" r="0.7"/><circle cx="935" cy="248" r="1.4"/><circle cx="912" cy="250" r="1.1"/><circle cx="960" cy="179" r="1.8"/><circle cx="1097" cy="230" r="0.9"/><circle cx="1005" cy="212" r="1.4"/><circle cx="979" cy="131" r="1.8"/><circle cx="957" cy="175" r="0.9"/><circle cx="943" cy="253" r="1.8"/><circle cx="968" cy="244" r="1.8"/><circle cx="989" cy="148" r="1.1"/><circle cx="978" cy="146" r="0.9"/><circle cx="998" cy="173" r="1.4"/><circle cx="1002" cy="215" r="1.4"/><circle cx="949" cy="218" r="1.1"/><circle cx="906" cy="263" r="1.8"/><circle cx="1097" cy="264" r="1.4"/><circle cx="985" cy="161" r="1.1"/><circle cx="978" cy="144" r="1.1"/><circle cx="989" cy="131" r="1.1"/><circle cx="961" cy="157" r="0.7"/><circle cx="1002" cy="240" r="0.7"/><circle cx="1019" cy="243" r="1.1"/><circle cx="1078" cy="232" r="1.8"/><circle cx="949" cy="208" r="1.1"/><circle cx="970" cy="154" r="0.7"/><circle cx="941" cy="214" r="0.9"/><circle cx="996" cy="246" r="1.8"/><circle cx="1085" cy="144" r="0.9"/><circle cx="932" cy="255" r="1.4"/><circle cx="994" cy="164" r="0.9"/><circle cx="1094" cy="293" r="1.1"/><circle cx="997" cy="169" r="0.9"/><circle cx="1090" cy="257" r="0.7"/><circle cx="1097" cy="205" r="0.9"/><circle cx="960" cy="142" r="1.4"/><circle cx="1007" cy="213" r="0.9"/><circle cx="1079" cy="160" r="1.4"/><circle cx="960" cy="146" r="1.1"/><circle cx="947" cy="180" r="0.7"/><circle cx="1006" cy="175" r="1.8"/><circle cx="1087" cy="281" r="1.8"/><circle cx="973" cy="247" r="1.8"/><circle cx="1019" cy="260" r="1.1"/><circle cx="954" cy="180" r="1.4"/><circle cx="1083" cy="297" r="0.9"/><circle cx="1082" cy="161" r="1.8"/><circle cx="942" cy="214" r="0.9"/><circle cx="897" cy="297" r="0.7"/><circle cx="932" cy="248" r="1.1"/><circle cx="1081" cy="227" r="0.9"/><circle cx="1082" cy="243" r="0.9"/><circle cx="953" cy="168" r="1.8"/><circle cx="988" cy="157" r="0.7"/><circle cx="918" cy="296" r="1.1"/><circle cx="934" cy="271" r="0.9"/><circle cx="1082" cy="222" r="1.8"/><circle cx="896" cy="293" r="1.8"/><circle cx="963" cy="141" r="0.9"/><circle cx="951" cy="191" r="0.9"/><circle cx="1089" cy="186" r="1.8"/><circle cx="1092" cy="228" r="1.1"/><circle cx="945" cy="178" r="0.7"/><circle cx="919" cy="235" r="1.4"/><circle cx="918" cy="243" r="1.8"/><circle cx="1013" cy="227" r="0.7"/><circle cx="968" cy="251" r="0.7"/><circle cx="1080" cy="195" r="0.7"/><circle cx="932" cy="225" r="1.1"/><circle cx="1010" cy="197" r="1.1"/><circle cx="988" cy="239" r="1.4"/><circle cx="992" cy="249" r="0.9"/><circle cx="993" cy="145" r="1.8"/><circle cx="1083" cy="250" r="1.4"/><circle cx="976" cy="241" r="0.9"/><circle cx="933" cy="230" r="1.8"/><circle cx="1092" cy="191" r="0.9"/><circle cx="922" cy="280" r="0.7"/><circle cx="1094" cy="203" r="0.7"/><circle cx="998" cy="171" r="0.9"/><circle cx="994" cy="142" r="1.4"/><circle cx="1082" cy="155" r="0.9"/><circle cx="904" cy="290" r="0.9"/><circle cx="1079" cy="214" r="1.8"/><circle cx="1091" cy="266" r="1.1"/><circle cx="958" cy="180" r="1.1"/><circle cx="1093" cy="273" r="0.7"/><circle cx="935" cy="243" r="1.8"/><circle cx="1084" cy="141" r="1.8"/><circle cx="1090" cy="162" r="0.7"/><circle cx="1000" cy="205" r="0.7"/><circle cx="944" cy="214" r="1.8"/><circle cx="951" cy="161" r="1.1"/><circle cx="944" cy="217" r="1.4"/><circle cx="1075" cy="172" r="1.4"/><circle cx="974" cy="164" r="0.7"/><circle cx="1001" cy="242" r="0.7"/><circle cx="904" cy="277" r="1.8"/><circle cx="958" cy="183" r="0.9"/><circle cx="970" cy="157" r="0.7"/><circle cx="1016" cy="213" r="1.8"/><circle cx="1000" cy="157" r="1.1"/><circle cx="1083" cy="166" r="1.1"/><circle cx="958" cy="244" r="0.9"/><circle cx="1091" cy="216" r="0.9"/><circle cx="1075" cy="244" r="1.8"/><circle cx="964" cy="245" r="1.8"/><circle cx="1088" cy="187" r="1.4"/><circle cx="917" cy="243" r="0.9"/><circle cx="990" cy="241" r="1.8"/><circle cx="959" cy="164" r="0.7"/><circle cx="934" cy="260" r="1.8"/><circle cx="1089" cy="260" r="0.9"/><circle cx="980" cy="147" r="1.8"/><circle cx="997" cy="201" r="0.7"/><circle cx="1046" cy="293" r="1.4"/><circle cx="926" cy="241" r="1.4"/><circle cx="1100" cy="156" r="1.1"/><circle cx="1090" cy="288" r="1.4"/><circle cx="929" cy="296" r="1.1"/><circle cx="1013" cy="221" r="1.4"/><circle cx="976" cy="169" r="0.9"/><circle cx="930" cy="250" r="1.4"/><circle cx="949" cy="222" r="1.8"/><circle cx="907" cy="281" r="0.7"/><circle cx="982" cy="168" r="1.1"/><circle cx="1090" cy="198" r="1.8"/><circle cx="985" cy="148" r="0.7"/><circle cx="951" cy="173" r="0.7"/><circle cx="1014" cy="239" r="1.8"/><circle cx="925" cy="255" r="0.7"/><circle cx="921" cy="296" r="1.8"/><circle cx="1089" cy="146" r="1.4"/><circle cx="953" cy="204" r="0.7"/><circle cx="1088" cy="219" r="0.9"/><circle cx="1097" cy="296" r="0.7"/><circle cx="917" cy="291" r="0.7"/><circle cx="1077" cy="222" r="1.8"/><circle cx="1099" cy="227" r="1.4"/><circle cx="1083" cy="185" r="1.1"/><circle cx="896" cy="294" r="0.9"/><circle cx="1079" cy="201" r="1.4"/><circle cx="938" cy="235" r="1.1"/><circle cx="991" cy="138" r="1.1"/><circle cx="980" cy="175" r="1.8"/><circle cx="946" cy="222" r="1.1"/><circle cx="1096" cy="279" r="0.9"/><circle cx="933" cy="201" r="1.1"/><circle cx="1003" cy="250" r="1.1"/><circle cx="1082" cy="142" r="1.8"/><circle cx="944" cy="226" r="1.8"/><circle cx="1077" cy="218" r="1.1"/><circle cx="930" cy="248" r="1.1"/><circle cx="944" cy="178" r="1.1"/><circle cx="921" cy="278" r="1.1"/><circle cx="1078" cy="260" r="1.4"/><circle cx="1084" cy="159" r="1.8"/><circle cx="1082" cy="213" r="1.8"/><circle cx="1090" cy="152" r="1.8"/><circle cx="932" cy="258" r="0.7"/><circle cx="909" cy="292" r="1.4"/><circle cx="953" cy="201" r="1.4"/><circle cx="943" cy="249" r="1.8"/><circle cx="903" cy="290" r="1.1"/><circle cx="1027" cy="243" r="0.7"/><circle cx="1036" cy="279" r="1.4"/><circle cx="992" cy="243" r="1.8"/><circle cx="1014" cy="209" r="0.9"/><circle cx="968" cy="130" r="0.9"/><circle cx="1081" cy="209" r="0.9"/><circle cx="1034" cy="283" r="1.1"/><circle cx="938" cy="263" r="0.7"/><circle cx="1013" cy="216" r="1.1"/><circle cx="949" cy="207" r="1.4"/><circle cx="1095" cy="231" r="0.9"/><circle cx="929" cy="270" r="1.4"/><circle cx="910" cy="263" r="0.7"/><circle cx="1021" cy="224" r="0.9"/><circle cx="905" cy="269" r="1.4"/><circle cx="919" cy="270" r="0.9"/><circle cx="1083" cy="230" r="1.4"/><circle cx="1087" cy="144" r="0.9"/><circle cx="1089" cy="145" r="1.4"/><circle cx="1092" cy="175" r="1.4"/><circle cx="917" cy="253" r="1.8"/><circle cx="939" cy="218" r="0.9"/><circle cx="929" cy="218" r="1.1"/><circle cx="957" cy="156" r="1.1"/><circle cx="921" cy="252" r="1.1"/><circle cx="944" cy="254" r="1.4"/><circle cx="951" cy="241" r="1.4"/><circle cx="1088" cy="137" r="1.1"/><circle cx="1080" cy="228" r="1.1"/><circle cx="1087" cy="238" r="0.7"/><circle cx="916" cy="246" r="0.7"/><circle cx="1099" cy="189" r="1.1"/><circle cx="1077" cy="212" r="1.8"/><circle cx="909" cy="294" r="0.9"/><circle cx="1099" cy="166" r="0.9"/><circle cx="929" cy="219" r="0.7"/><circle cx="1099" cy="141" r="1.4"/><circle cx="997" cy="163" r="1.4"/><circle cx="941" cy="251" r="1.1"/><circle cx="988" cy="132" r="1.1"/><circle cx="1091" cy="293" r="1.1"/><circle cx="988" cy="166" r="1.8"/><circle cx="931" cy="260" r="1.1"/><circle cx="929" cy="239" r="1.4"/><circle cx="990" cy="147" r="1.4"/><circle cx="1078" cy="150" r="0.7"/><circle cx="911" cy="263" r="1.4"/><circle cx="981" cy="145" r="1.8"/><circle cx="957" cy="243" r="1.8"/><circle cx="1088" cy="297" r="1.4"/><circle cx="1083" cy="253" r="0.7"/><circle cx="1084" cy="159" r="0.7"/><circle cx="1012" cy="251" r="0.7"/><circle cx="970" cy="168" r="1.4"/><circle cx="978" cy="151" r="1.1"/><circle cx="927" cy="290" r="0.7"/><circle cx="952" cy="166" r="0.7"/><circle cx="929" cy="229" r="0.9"/><circle cx="937" cy="206" r="1.4"/><circle cx="933" cy="234" r="1.4"/><circle cx="981" cy="142" r="0.7"/><circle cx="937" cy="273" r="1.1"/><circle cx="965" cy="152" r="0.9"/><circle cx="959" cy="143" r="1.4"/><circle cx="1086" cy="243" r="1.1"/><circle cx="1033" cy="263" r="1.4"/><circle cx="916" cy="252" r="1.4"/><circle cx="1032" cy="275" r="1.4"/><circle cx="1087" cy="188" r="1.1"/><circle cx="995" cy="252" r="1.8"/><circle cx="965" cy="240" r="1.8"/><circle cx="920" cy="244" r="1.4"/><circle cx="1015" cy="201" r="0.9"/><circle cx="950" cy="175" r="0.7"/><circle cx="1090" cy="201" r="1.4"/><circle cx="923" cy="287" r="0.7"/><circle cx="986" cy="148" r="0.7"/><circle cx="1092" cy="230" r="1.1"/><circle cx="927" cy="285" r="1.8"/><circle cx="933" cy="266" r="0.9"/><circle cx="909" cy="283" r="0.7"/><circle cx="929" cy="268" r="1.4"/><circle cx="1081" cy="166" r="0.7"/><circle cx="1095" cy="227" r="1.4"/><circle cx="1016" cy="226" r="1.4"/><circle cx="1002" cy="172" r="0.7"/><circle cx="980" cy="138" r="1.4"/><circle cx="1099" cy="222" r="0.9"/><circle cx="1022" cy="251" r="1.4"/><circle cx="1017" cy="237" r="0.9"/><circle cx="939" cy="225" r="1.8"/><circle cx="1096" cy="224" r="0.7"/><circle cx="959" cy="144" r="1.8"/><circle cx="987" cy="158" r="1.4"/><circle cx="1028" cy="247" r="0.7"/><circle cx="969" cy="150" r="1.8"/><circle cx="993" cy="155" r="1.1"/><circle cx="1016" cy="247" r="1.8"/><circle cx="1020" cy="255" r="0.7"/><circle cx="950" cy="181" r="0.7"/><circle cx="1090" cy="139" r="0.7"/><circle cx="1013" cy="241" r="1.4"/><circle cx="997" cy="187" r="0.9"/><circle cx="961" cy="164" r="1.4"/><circle cx="937" cy="255" r="0.9"/><circle cx="1011" cy="224" r="0.7"/><circle cx="936" cy="279" r="1.8"/><circle cx="1086" cy="141" r="1.1"/><circle cx="955" cy="241" r="1.1"/><circle cx="1077" cy="237" r="1.1"/><circle cx="917" cy="281" r="0.9"/><circle cx="1019" cy="242" r="1.4"/><circle cx="961" cy="152" r="1.1"/><circle cx="971" cy="176" r="1.4"/><circle cx="961" cy="157" r="1.1"/><circle cx="1023" cy="261" r="1.1"/><circle cx="976" cy="167" r="0.9"/><circle cx="991" cy="155" r="0.9"/><circle cx="1077" cy="243" r="0.7"/><circle cx="1086" cy="263" r="1.1"/><circle cx="934" cy="214" r="1.4"/><circle cx="984" cy="134" r="0.7"/><circle cx="1078" cy="215" r="0.7"/><circle cx="991" cy="174" r="1.8"/><circle cx="1080" cy="146" r="0.7"/><circle cx="964" cy="163" r="1.8"/><circle cx="1000" cy="183" r="1.8"/><circle cx="965" cy="180" r="1.1"/><circle cx="963" cy="192" r="0.9"/><circle cx="987" cy="167" r="0.7"/><circle cx="1016" cy="240" r="0.9"/><circle cx="969" cy="150" r="0.7"/><circle cx="916" cy="245" r="0.9"/><circle cx="1082" cy="153" r="1.4"/><circle cx="1091" cy="245" r="0.9"/><circle cx="1014" cy="214" r="1.8"/><circle cx="913" cy="264" r="0.7"/><circle cx="1090" cy="249" r="1.1"/><circle cx="954" cy="158" r="0.7"/><circle cx="949" cy="185" r="1.4"/><circle cx="1030" cy="289" r="1.4"/><circle cx="1099" cy="170" r="1.4"/><circle cx="917" cy="255" r="1.8"/><circle cx="983" cy="173" r="1.4"/><circle cx="1095" cy="291" r="1.8"/><circle cx="994" cy="184" r="1.8"/><circle cx="1022" cy="257" r="0.7"/><circle cx="1078" cy="258" r="0.7"/><circle cx="986" cy="240" r="1.4"/><circle cx="962" cy="160" r="0.7"/><circle cx="950" cy="192" r="1.4"/><circle cx="1084" cy="230" r="1.4"/><circle cx="981" cy="138" r="1.8"/><circle cx="937" cy="244" r="1.1"/><circle cx="1093" cy="258" r="0.7"/><circle cx="963" cy="161" r="1.4"/><circle cx="913" cy="293" r="1.8"/><circle cx="967" cy="133" r="0.7"/><circle cx="1077" cy="291" r="1.1"/><circle cx="1000" cy="244" r="1.1"/><circle cx="957" cy="249" r="1.4"/><circle cx="1025" cy="246" r="1.4"/><circle cx="993" cy="186" r="0.7"/><circle cx="1079" cy="227" r="1.8"/><circle cx="928" cy="287" r="1.1"/><circle cx="1076" cy="260" r="0.9"/><circle cx="959" cy="173" r="1.4"/><circle cx="1086" cy="288" r="1.4"/><circle cx="912" cy="291" r="1.1"/><circle cx="992" cy="157" r="0.9"/><circle cx="1034" cy="269" r="0.9"/><circle cx="949" cy="195" r="0.9"/><circle cx="1080" cy="288" r="1.4"/><circle cx="969" cy="251" r="1.4"/><circle cx="1078" cy="194" r="0.7"/><circle cx="932" cy="263" r="1.1"/><circle cx="955" cy="186" r="0.9"/><circle cx="1100" cy="196" r="1.8"/><circle cx="1093" cy="159" r="1.1"/><circle cx="952" cy="241" r="1.4"/><circle cx="910" cy="263" r="1.8"/><circle cx="1098" cy="178" r="1.8"/><circle cx="959" cy="196" r="0.7"/><circle cx="1046" cy="295" r="0.7"/><circle cx="1005" cy="194" r="1.1"/><circle cx="1087" cy="253" r="1.4"/><circle cx="1091" cy="137" r="1.1"/><circle cx="901" cy="286" r="0.9"/><circle cx="1095" cy="221" r="1.4"/><circle cx="977" cy="240" r="1.8"/><circle cx="974" cy="169" r="1.1"/><circle cx="1027" cy="255" r="0.7"/><circle cx="918" cy="263" r="1.1"/><circle cx="940" cy="209" r="0.7"/><circle cx="931" cy="271" r="0.7"/><circle cx="952" cy="182" r="1.8"/><circle cx="964" cy="175" r="1.1"/><circle cx="941" cy="229" r="1.4"/><circle cx="994" cy="170" r="0.9"/><circle cx="950" cy="185" r="1.1"/><circle cx="929" cy="239" r="1.4"/><circle cx="1027" cy="262" r="1.4"/><circle cx="1007" cy="227" r="1.8"/><circle cx="1093" cy="202" r="1.8"/><circle cx="1008" cy="247" r="0.9"/><circle cx="1089" cy="150" r="1.4"/><circle cx="1034" cy="287" r="0.7"/><circle cx="1093" cy="151" r="0.7"/><circle cx="1075" cy="202" r="1.4"/><circle cx="1076" cy="198" r="1.8"/><circle cx="1098" cy="240" r="1.8"/><circle cx="969" cy="182" r="0.9"/><circle cx="936" cy="258" r="1.4"/><circle cx="1028" cy="260" r="0.7"/><circle cx="1020" cy="223" r="0.7"/><circle cx="905" cy="276" r="1.1"/><circle cx="950" cy="165" r="1.4"/><circle cx="1096" cy="136" r="1.4"/><circle cx="1024" cy="234" r="0.7"/><circle cx="1077" cy="165" r="1.8"/><circle cx="992" cy="247" r="1.4"/><circle cx="1083" cy="263" r="1.1"/><circle cx="942" cy="241" r="0.7"/><circle cx="1003" cy="246" r="0.9"/><circle cx="929" cy="272" r="0.9"/><circle cx="1082" cy="223" r="1.4"/><circle cx="993" cy="246" r="1.8"/><circle cx="1009" cy="188" r="1.1"/><circle cx="1019" cy="254" r="0.9"/><circle cx="1015" cy="232" r="1.8"/><circle cx="956" cy="213" r="1.1"/><circle cx="1080" cy="244" r="1.8"/><circle cx="999" cy="176" r="0.7"/><circle cx="979" cy="133" r="0.9"/><circle cx="1005" cy="240" r="0.7"/><circle cx="1076" cy="243" r="1.1"/><circle cx="1088" cy="231" r="1.1"/><circle cx="968" cy="178" r="1.1"/><circle cx="985" cy="162" r="1.8"/><circle cx="1007" cy="206" r="1.8"/><circle cx="1091" cy="249" r="1.4"/><circle cx="1080" cy="140" r="1.4"/><circle cx="1095" cy="151" r="0.7"/><circle cx="1031" cy="278" r="0.7"/><circle cx="984" cy="135" r="1.4"/><circle cx="1006" cy="245" r="1.4"/><circle cx="1086" cy="226" r="0.9"/><circle cx="961" cy="243" r="1.4"/><circle cx="969" cy="176" r="0.9"/><circle cx="1099" cy="151" r="0.7"/><circle cx="918" cy="291" r="0.9"/><circle cx="946" cy="234" r="1.1"/><circle cx="1037" cy="279" r="0.9"/><circle cx="976" cy="149" r="0.9"/><circle cx="1088" cy="284" r="1.1"/><circle cx="955" cy="160" r="1.1"/><circle cx="1002" cy="170" r="1.4"/><circle cx="928" cy="278" r="1.8"/><circle cx="1087" cy="188" r="0.7"/><circle cx="957" cy="151" r="1.8"/><circle cx="961" cy="184" r="0.7"/><circle cx="959" cy="160" r="1.4"/><circle cx="985" cy="239" r="0.9"/><circle cx="951" cy="192" r="1.4"/><circle cx="1099" cy="161" r="0.9"/><circle cx="935" cy="278" r="1.4"/><circle cx="962" cy="142" r="1.8"/><circle cx="1077" cy="219" r="1.8"/><circle cx="1032" cy="294" r="1.1"/></g><g fill="#f7f1ed" stroke="#9d9995" stroke-width="1.3"><rect x="828" y="220" width="17" height="17"/><rect x="1046" y="120" width="12" height="12"/><rect x="1099" y="184" width="15" height="15"/><rect x="960" y="343" width="11" height="11"/></g><path d="M855,303L918,282 M855,303L905,296 M866,312L912,289 M860,303L870,312 M1000,274L1040,300 M1040,300L1082,297 M1060,356L1068,322 M1068,322L1090,300 M935,205L885,232 M1043,296L1075,330 M1110,215L1140,212 M1000,140L1030,150" stroke="#3a3a3a" stroke-width="0.9" fill="none"/><g fill="#222"><circle cx="855" cy="303" r="2"/><circle cx="866" cy="312" r="1.8"/><circle cx="1060" cy="356" r="1.6"/><circle cx="1075" cy="330" r="1.5"/><circle cx="885" cy="232" r="1.7"/><circle cx="1140" cy="212" r="1.5"/></g><ellipse cx="1065" cy="312" rx="22" ry="12" fill="#8a8682" opacity="0.18"/></g><!--/brain-->

  <!-- TITLE -->
  <rect x="61" y="560" width="919" height="11.5" fill="#e8112d"/>
  <g class="serif" fill="#0b0b0b" stroke="#0b0b0b" stroke-width="1.6" font-size="130">
    <text x="62.0" y="198" textLength="317.0" lengthAdjust="spacingAndGlyphs">India′s</text>
    <text x="63.0" y="319" textLength="480.0" lengthAdjust="spacingAndGlyphs">Enterprise</text>
    <text x="565.0" y="319" textLength="105.5" lengthAdjust="spacingAndGlyphs">AI</text>
    <text x="61.0" y="440" textLength="265.0" lengthAdjust="spacingAndGlyphs">Share</text>
    <text x="344.5" y="440" textLength="144.5" lengthAdjust="spacingAndGlyphs">Set</text>
    <text x="515.0" y="440" textLength="97.5" lengthAdjust="spacingAndGlyphs">to</text>
    <text x="61.0" y="558" textLength="504.5" lengthAdjust="spacingAndGlyphs">Quadruple</text>
    <text x="588.5" y="558" textLength="117.5" lengthAdjust="spacingAndGlyphs">by</text>
    <text x="719.5" y="558" textLength="239.5" lengthAdjust="spacingAndGlyphs">2030</text>
  </g>

  <!-- SUBTITLE -->
  <g class="sans" fill="#1a1a1a" font-size="39">
    <text x="66" y="658.5" textLength="837" lengthAdjust="spacingAndGlyphs">By 2030, India is expected to account for 7.2%</text>
    <text x="67" y="704.5" textLength="714" lengthAdjust="spacingAndGlyphs">of total global enterprise AI expenditure</text>
  </g>

  <!-- CHART 2025 -->
  <text class="sans" x="122" y="922.5" font-size="61.5" font-weight="bold" fill="#e42028" textLength="139.5" lengthAdjust="spacingAndGlyphs">2025</text>
  <polyline points="123,936.5 388,936.5 466,1015" fill="none" stroke="#2a2e4a" stroke-width="2"/>
  <circle cx="466" cy="1015" r="10.5" fill="#e31e24"/>
  <circle cx="688" cy="1183" r="226.5" fill="none" stroke="#1c2557" stroke-width="61"/>
  <path d="M701.2,926.3 A257,257 0 0 1 744.6,932.3 L719.3,988.5 A196,196 0 0 0 694.9,987.1 Z" fill="#e31e24"/>
  <g class="serif" fill="#e31e24" stroke="#e31e24" stroke-width="2" font-size="92">
    <text x="633.0" y="1183" textLength="30.0" lengthAdjust="spacingAndGlyphs">1</text><text x="660.0" y="1183" textLength="14.0" lengthAdjust="spacingAndGlyphs">.</text><text x="668.0" y="1183" textLength="39.0" lengthAdjust="spacingAndGlyphs">7</text>
    <text x="596" y="1265" textLength="84" lengthAdjust="spacingAndGlyphs">$11</text>
    <text x="692" y="1265" textLength="88" lengthAdjust="spacingAndGlyphs">Bn</text>
    <text x="578" y="1262" font-size="74" stroke-width="0.6" textLength="22" lengthAdjust="spacingAndGlyphs">(</text>
    <text x="776" y="1262" font-size="74" stroke-width="0.6" textLength="22" lengthAdjust="spacingAndGlyphs">)</text>
  </g>
  <g fill="none" stroke="#e31e24">
    <ellipse cx="715.2" cy="1144.2" rx="4.6" ry="5.8" stroke-width="4"/>
    <ellipse cx="736" cy="1172.4" rx="4.6" ry="5.8" stroke-width="4"/>
    <line x1="735" y1="1129" x2="716.7" y2="1187.7" stroke-width="1.8"/>
  </g>

  <!-- BAND 1 -->
  <rect x="0" y="1483" width="1247" height="122" fill="#d6e6fc"/>
  <text class="sans" x="160" y="1557" font-size="46.5" fill="#0d0d12" stroke="#0d0d12" stroke-width="1.6" textLength="900" lengthAdjust="spacing">$644 Bn Global Enterprise AI Expenditure</text>

  <!-- CHART 2030 -->
  <text class="sans" x="121.5" y="1711.5" font-size="61.5" font-weight="bold" fill="#e42028" textLength="148.5" lengthAdjust="spacingAndGlyphs">2030</text>
  <polyline points="123,1728.5 387,1728.5 466,1811" fill="none" stroke="#2a2e4a" stroke-width="2"/>
  <circle cx="466" cy="1811" r="10.5" fill="#e31e24"/>
  <circle cx="688" cy="1985" r="230" fill="none" stroke="#1c2557" stroke-width="62"/>
  <path d="M701,1724.3 A261,261 0 0 1 811.8,1755 L782.9,1810.1 A199,199 0 0 0 694,1786.1 Z" fill="#e31e24"/>
  <g class="serif" fill="#e31e24" stroke="#e31e24" stroke-width="2" font-size="92">
    <text x="632.0" y="1984" textLength="40.0" lengthAdjust="spacingAndGlyphs">7</text><text x="656.0" y="1984" textLength="14.0" lengthAdjust="spacingAndGlyphs">.</text><text x="667.0" y="1984" textLength="41.0" lengthAdjust="spacingAndGlyphs">2</text>
    <text x="591" y="2068" textLength="93" lengthAdjust="spacingAndGlyphs">$71</text>
    <text x="694.5" y="2068" textLength="89" lengthAdjust="spacingAndGlyphs">Bn</text>
    <text x="575" y="2064" font-size="74" stroke-width="0.6" textLength="22" lengthAdjust="spacingAndGlyphs">(</text>
    <text x="781" y="2064" font-size="74" stroke-width="0.6" textLength="22" lengthAdjust="spacingAndGlyphs">)</text>
  </g>
  <g fill="none" stroke="#e31e24">
    <ellipse cx="716.8" cy="1944.9" rx="4.6" ry="5.8" stroke-width="4"/>
    <ellipse cx="738.2" cy="1973" rx="4.6" ry="5.8" stroke-width="4"/>
    <line x1="736.5" y1="1929.8" x2="718.8" y2="1987.7" stroke-width="1.8"/>
  </g>

  <!-- BAND 2 -->
  <rect x="0" y="2272" width="1247" height="122" fill="#d6e6fc"/>
  <text class="sans" x="166" y="2346" font-size="46.5" fill="#0d0d12" stroke="#0d0d12" stroke-width="1.6" textLength="888" lengthAdjust="spacing">$981 Bn Global Enterprise AI Expenditure</text>

  <!-- FOOTER -->
  <rect x="35" y="2435.5" width="1177" height="2" fill="#57524f"/>
  <text class="sans" x="41" y="2480" font-size="23.5" fill="#827d79" textLength="391" lengthAdjust="spacingAndGlyphs">Source: Bharat AI Startups Report, 2026</text>
  <g id="logo"><g fill="#0c0c0c"><path d="M1055.5,2456 H1072.5 V2462.6 H1068.6 V2493.4 H1072.6 V2499.7 H1055.3 V2493.4 H1059.8 V2462.6 H1055.5 Z"/><path d="M1077,2468.3 H1089.3 V2471.8 C1091.5,2468.5 1095.3,2466.8 1099.3,2466.8 C1105,2466.8 1107.8,2470.2 1107.8,2477 V2493.5 H1112.1 V2499.7 H1098 V2493.5 H1099.6 V2479 C1099.6,2475.4 1098.4,2473.8 1095.8,2473.8 C1092.3,2473.8 1089.4,2476.6 1089.4,2480.2 V2493.5 H1092.6 V2499.7 H1077.2 V2493.5 H1081.2 V2474.3 H1077 Z"/><path d="M1143.4,2468.4 V2479.2 H1136.2 C1135.4,2475.6 1133.4,2473.9 1130.6,2473.9 C1126.4,2473.9 1125.6,2478.6 1125.6,2483.4 C1125.6,2488.6 1126.8,2492.8 1131.2,2492.8 C1134.6,2492.8 1137.6,2491.4 1139.8,2488.8 L1143.8,2494.2 C1140.8,2498 1135.8,2499.9 1130.2,2499.9 C1121.2,2499.9 1117,2493.2 1117,2483.4 C1117,2473.2 1122.2,2467 1130.8,2467 C1136.2,2467 1140.4,2467.8 1143.4,2468.4 Z"/></g>
  <g fill="#e31e24">
  <path d="M1168.2,2456.2 H1175 L1173.6,2464.4 L1160.5,2483.5 H1169.8 V2489.9 H1152.5 V2480 Z"/>
  <path d="M1174,2456.2 H1193.4 Q1184.5,2462 1183.8,2472 L1181.7,2477 V2500.2 H1174.6 Z"/>
  <circle cx="1197.2" cy="2470.2" r="7.3"/>
  <path d="M1181.7,2500.2 C1181.7,2489 1188,2483 1197,2478.5 C1201,2476.5 1204,2474 1204.5,2470 L1191,2471 C1189,2474 1184,2477 1181,2480 L1181,2500.2 Z"/>
  <path d="M1192.6,2492.6 H1211.3 V2472.6 Q1206,2486 1192.6,2492.6 Z"/>
  </g>
  <path d="M1203.5,2461.5 A9.4,9.4 0 0 0 1187.8,2470.5" fill="none" stroke="#f7f1ed" stroke-width="2.2"/>
  </g><!--/logo-->
</svg>
</body>
</html>
